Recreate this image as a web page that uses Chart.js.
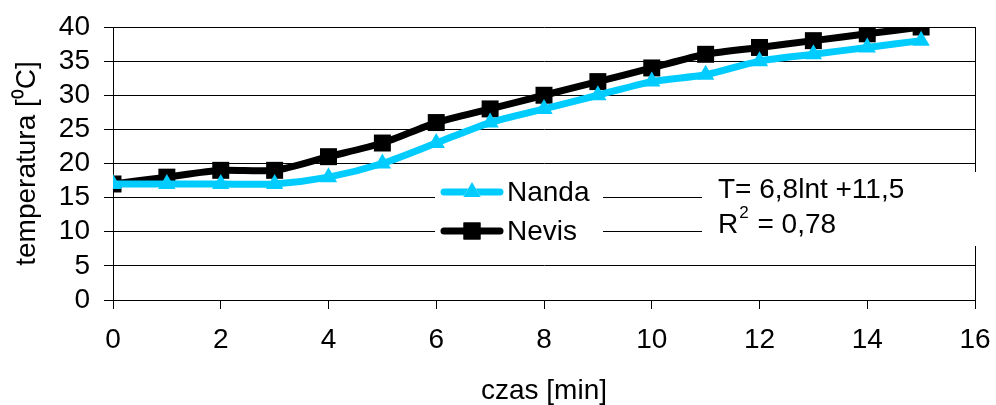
<!DOCTYPE html>
<html>
<head>
<meta charset="utf-8">
<script src="https://cdn.jsdelivr.net/npm/chart.js@4"></script>
<style>
  html, body { margin: 0; padding: 0; background: #fff; }
  #wrap { width: 996px; height: 405px; }
</style>
</head>
<body>
<div id="wrap"><canvas id="chart" width="996" height="405"></canvas></div>
<script>
const czas = [0, 1, 2, 3, 4, 5, 6, 7, 8, 9, 10, 11, 12, 13, 14, 15];
const nanda = [17, 17, 17, 17, 18, 20, 23, 26, 28, 30, 32, 33, 35, 36, 37, 38];
const nevis = [17, 18, 19, 19, 21, 23, 26, 28, 30, 32, 34, 36, 37, 38, 39, 40];
const seriesNames = ["Nanda", "Nevis"];
const equation = ["T= 6,8lnt +11,5", "R", "2", " = 0,78"];

const FONT = "'Liberation Sans', Arial, sans-serif";
const FS = 28;
const CYAN = "#00CCFF";

function toPoints(xs, ys) {
    return xs.map((x, i) => ({ x: x, y: ys[i] }));
}

// legend + equation text boxes drawn over the gridlines
const legendBox = {
    id: "legendBox",
    afterDatasetsDraw(chart) {
        const ctx = chart.ctx;
        ctx.save();
        ctx.fillStyle = "#fff";
        ctx.fillRect(435, 172, 168, 74);
        ctx.fillRect(702, 172, 285, 74);

        const rows = [192, 231];
        chart.data.datasets.forEach((ds, i) => {
            const y = rows[i];
            ctx.strokeStyle = ds.borderColor;
            ctx.lineWidth = ds.borderWidth;
            ctx.lineCap = "round";
            ctx.beginPath();
            ctx.moveTo(444, y);
            ctx.lineTo(500, y);
            ctx.stroke();
            Chart.helpers.drawPoint(ctx, {
                pointStyle: ds.pointStyle,
                radius: ds.pointRadius,
                rotation: 0,
                borderWidth: 0
            }, 472, y);
            ctx.fillStyle = ds.borderColor;
            ctx.fill();
            ctx.fillStyle = "#000";
            ctx.font = FS + "px " + FONT;
            ctx.textBaseline = "middle";
            ctx.textAlign = "left";
            ctx.fillText(ds.label, 507, y + 1);
        });

        ctx.fillStyle = "#000";
        ctx.textBaseline = "middle";
        ctx.font = FS + "px " + FONT;
        ctx.fillText(equation[0], 718, 190);
        ctx.fillText(equation[1], 718, 225);
        const rw = ctx.measureText(equation[1]).width;
        ctx.font = "17px " + FONT;
        ctx.fillText(equation[2], 718 + rw + 1, 213);
        const sw = ctx.measureText(equation[2]).width;
        ctx.font = FS + "px " + FONT;
        ctx.fillText(equation[3], 718 + rw + sw + 2, 225);
        ctx.restore();
    }
};

new Chart(document.getElementById("chart"), {
    type: "line",
    data: {
        datasets: [
            {
                label: seriesNames[0],
                data: toPoints(czas, nanda),
                borderColor: CYAN,
                backgroundColor: CYAN,
                borderWidth: 7,
                pointStyle: "triangle",
                pointRadius: 10,
                pointBorderWidth: 0,
                tension: 0.25
            },
            {
                label: seriesNames[1],
                data: toPoints(czas, nevis),
                borderColor: "#000",
                backgroundColor: "#000",
                borderWidth: 7,
                pointStyle: "rect",
                pointRadius: 12,
                pointBorderWidth: 0,
                tension: 0.25
            }
        ]
    },
    options: {
        responsive: false,
        animation: false,
        layout: { padding: { top: 27, right: 21, left: 0, bottom: 0 } },
        plugins: {
            legend: { display: false },
            tooltip: { enabled: false }
        },
        scales: {
            x: {
                type: "linear",
                min: 0,
                max: 16,
                afterFit(scale) {
                    scale.height = 105;
                    scale.paddingLeft = 0;
                    scale.paddingRight = 0;
                },
                ticks: {
                    stepSize: 2,
                    autoSkip: false,
                    maxRotation: 0,
                    color: "#000",
                    padding: 14,
                    font: { family: FONT, size: FS }
                },
                grid: {
                    color: c => (c.tick && c.tick.value === 16 ? "#000" : "rgba(0,0,0,0)"),
                    tickColor: "#000",
                    tickLength: 9,
                    lineWidth: 1
                },
                border: { display: true, color: "#000", width: 1 },
                title: {
                    display: true,
                    text: "czas [min]",
                    color: "#000",
                    padding: { top: 0, bottom: -3 },
                    font: { family: FONT, size: FS }
                }
            },
            y: {
                min: 0,
                max: 40,
                afterFit(scale) {
                    scale.width = 113;
                    scale.paddingTop = 0;
                    scale.paddingBottom = 0;
                },
                ticks: {
                    stepSize: 5,
                    autoSkip: false,
                    color: "#000",
                    padding: 14,
                    font: { family: FONT, size: FS }
                },
                grid: {
                    color: "#000",
                    tickColor: "#000",
                    tickLength: 9,
                    lineWidth: 1
                },
                border: { display: true, color: "#000", width: 1 },
                title: {
                    display: true,
                    text: "temperatura [\u2070C]",
                    color: "#000",
                    padding: { top: 10, bottom: 0 },
                    font: { family: FONT, size: FS }
                }
            }
        }
    },
    plugins: [legendBox]
});
</script>
</body>
</html>
